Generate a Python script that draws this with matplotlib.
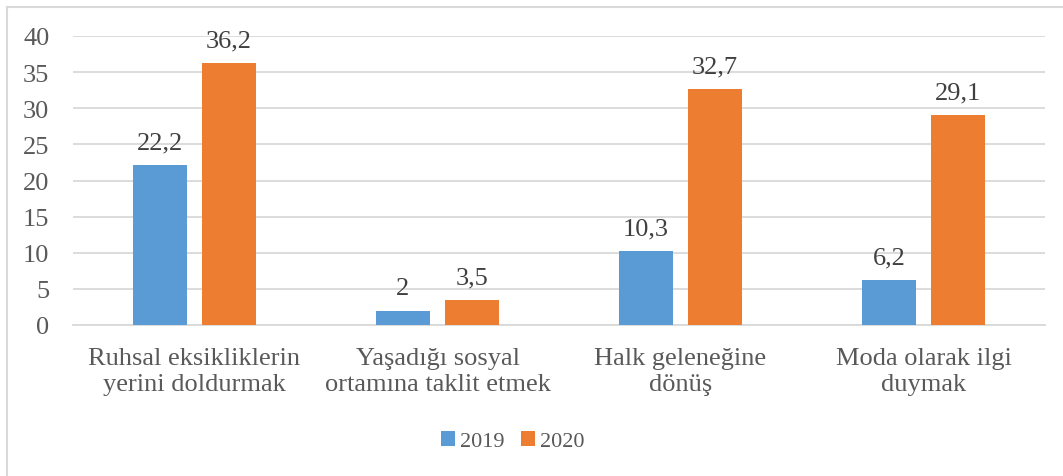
import matplotlib
matplotlib.use("Agg")
import matplotlib.pyplot as plt
from matplotlib.lines import Line2D
import numpy as np

categories = ["Ruhsal eksikliklerin\nyerini doldurmak",
              "Yaşadığı sosyal\nortamına taklit etmek",
              "Halk geleneğine\ndönüş",
              "Moda olarak ilgi\nduymak"]
series_names = ["2019", "2020"]
values_2019 = [22.2, 2, 10.3, 6.2]
values_2020 = [36.2, 3.5, 32.7, 29.1]
labels_2019 = ["22,2", "2", "10,3", "6,2"]
labels_2020 = ["36,2", "3,5", "32,7", "29,1"]

plt.rcParams['font.family'] = ['Liberation Serif', 'DejaVu Serif']

W, H = 1063, 477
fig = plt.figure(figsize=(W/100, H/100), dpi=100)
ax = fig.add_axes([73/W, 1-326/H, (1045-73)/W, (326-37)/H])

x = np.arange(len(categories))
bw = 0.222
off = 0.142
c1, c2 = "#5B9BD5", "#ED7D31"
b1 = ax.bar(x-off, values_2019, bw, color=c1, label=series_names[0], zorder=3)
b2 = ax.bar(x+off, values_2020, bw, color=c2, label=series_names[1], zorder=3)

fs = 19
for rect, lab in zip(b1, labels_2019):
    ax.text(rect.get_x()+rect.get_width()/2, rect.get_height()+1.6, lab,
            ha='center', va='bottom', fontsize=fs, color='#404040')
for rect, lab in zip(b2, labels_2020):
    ax.text(rect.get_x()+rect.get_width()/2, rect.get_height()+1.6, lab,
            ha='center', va='bottom', fontsize=fs, color='#404040')

ax.set_ylim(0, 40)
ax.set_xlim(-0.5, 3.5)
ax.set_yticks(range(0, 41, 5))
ax.yaxis.grid(True, color='#D9D9D9', linewidth=1.3, zorder=0)
ax.set_axisbelow(True)
for s in ['top', 'right', 'left']:
    ax.spines[s].set_visible(False)
ax.spines['bottom'].set_color('#D9D9D9')
ax.spines['bottom'].set_linewidth(1.3)
ax.set_xticks(x)
ax.set_xticklabels(categories, fontsize=fs, color='#595959', linespacing=1.25)
ax.tick_params(axis='x', length=0, pad=16)
ax.tick_params(axis='y', length=0, pad=17, labelsize=fs, labelcolor='#595959')

leg = fig.legend(handles=[b1, b2], labels=series_names, loc='center',
                 bbox_to_anchor=(513/W, 1-442/H), ncol=2, frameon=False,
                 fontsize=16, handlelength=0.6, handleheight=0.7,
                 handletextpad=0.25, columnspacing=0.75, labelcolor='#595959')

# outer chart frame
fig.add_artist(Line2D([7/W, 7/W], [1-8/H, 0], transform=fig.transFigure,
                      color='#D9D9D9', linewidth=1.5))
fig.add_artist(Line2D([7/W, 1], [1-8/H, 1-8/H], transform=fig.transFigure,
                      color='#D9D9D9', linewidth=1.5))

fig.savefig("out.png", dpi=100)
